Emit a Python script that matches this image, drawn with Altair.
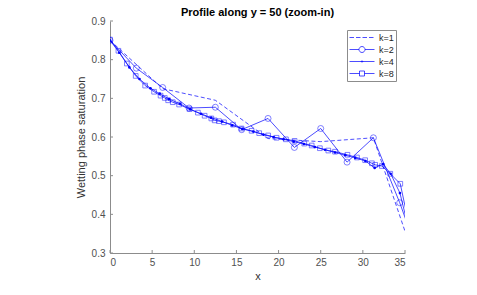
import altair as alt
import pandas as pd

SERIES = ["k=1", "k=2", "k=4", "k=8"]

K1_X = [0, 6.25, 12.5, 18.75, 25, 31.25, 37.5]
K1_S = [0.85, 0.725, 0.695, 0.596, 0.588, 0.598, 0.195]

K2_X = [0, 3.125, 6.25, 9.375, 12.5, 15.625, 18.75, 21.875, 25, 28.125, 31.25, 34.375, 37.5]
K2_S = [0.85, 0.778, 0.728, 0.675, 0.677, 0.619, 0.648, 0.573, 0.622, 0.535, 0.598, 0.43, 0.24]

K4_X = [0, 1.1, 2.3, 3.5, 4.8, 5.9, 7.0, 8.3, 9.5, 10.8, 12.0, 13.3, 14.5, 15.7, 17.0,
        18.2, 19.4, 20.6, 21.8, 23.0, 24.3, 25.5, 26.7, 27.9, 29.1, 30.3, 31.4, 32.4,
        33.3, 34.4, 35.8]
K4_S = [0.85, 0.818, 0.78, 0.75, 0.726, 0.712, 0.698, 0.686, 0.672, 0.660, 0.65, 0.64,
        0.63, 0.621, 0.614, 0.606, 0.600, 0.594, 0.588, 0.582, 0.574, 0.567, 0.560,
        0.553, 0.546, 0.538, 0.52, 0.53, 0.505, 0.455, 0.33]

K8_X = [0, 1.0, 2.0, 3.05, 4.17, 5.23, 6.0, 6.5, 6.9, 7.45, 8.2, 9.44, 10.43, 11.23,
        12.02, 12.42, 12.93, 13.52, 14.6, 15.6, 16.8, 17.7, 18.76, 19.76, 20.87, 21.9,
        23.05, 23.93, 24.9, 25.9, 26.7, 28.17, 29.3, 30.27, 31.07, 31.46, 32.26, 33.25,
        34.44, 35.6]
K8_S = [0.852, 0.823, 0.79, 0.758, 0.733, 0.717, 0.707, 0.701, 0.695, 0.69, 0.684,
        0.672, 0.663, 0.655, 0.648, 0.643, 0.641, 0.638, 0.632, 0.622, 0.616, 0.610,
        0.604, 0.598, 0.594, 0.59, 0.583, 0.578, 0.571, 0.565, 0.562, 0.554, 0.547,
        0.54, 0.532, 0.528, 0.525, 0.505, 0.479, 0.36]

X_TICKS = [0, 5, 10, 15, 20, 25, 30, 35]
Y_TICKS = [0.3, 0.4, 0.5, 0.6, 0.7, 0.8, 0.9]

rows = []
for name, xs, ss in [("k=1", K1_X, K1_S), ("k=2", K2_X, K2_S),
                     ("k=4", K4_X, K4_S), ("k=8", K8_X, K8_S)]:
    for x, s in zip(xs, ss):
        rows.append({"series": name, "x": x, "s": s})
df = pd.DataFrame(rows)

BLUE = "#0000ff"
FONT = "Liberation Sans"
W, H = 295, 232

xscale = alt.Scale(domain=[0, 35], nice=False, zero=False)
yscale = alt.Scale(domain=[0.3, 0.9], nice=False, zero=False)

xax = alt.Axis(values=X_TICKS, ticks=False, grid=False, domainColor="#8c8c8c",
               labelColor="#505050", labelFontSize=10, labelFont=FONT, labelPadding=4,
               title="x", titleFont=FONT, titleFontSize=11, titleFontWeight="normal",
               titleColor="#333333", titlePadding=3)
yax = alt.Axis(values=Y_TICKS, ticks=False, grid=False, domainColor="#8c8c8c",
               labelColor="#505050", labelFontSize=10, labelFont=FONT, labelPadding=5,
               format=".1f",
               title="Wetting phase saturation", titleFont=FONT, titleFontSize=11,
               titleFontWeight="normal", titleColor="#333333", titlePadding=5)

base = alt.Chart(df).encode(
    x=alt.X("x:Q", scale=xscale, axis=xax),
    y=alt.Y("s:Q", scale=yscale, axis=yax),
)

dashed = base.transform_filter(alt.datum.series == "k=1").mark_line(
    clip=True, strokeWidth=0.7, color=BLUE, strokeDash=[4, 2.5])
solid = base.transform_filter(alt.datum.series != "k=1").mark_line(
    clip=True, strokeWidth=0.7, color=BLUE).encode(detail="series:N")

circles = base.transform_filter(alt.datum.series == "k=2").mark_point(
    shape="circle", size=36, color=BLUE, strokeWidth=0.7, filled=False, clip=True)
squares = base.transform_filter(alt.datum.series == "k=8").mark_point(
    shape="square", size=22, color=BLUE, strokeWidth=0.7, filled=False, clip=True)
dots = base.transform_filter(alt.datum.series == "k=4").mark_circle(
    size=7, color=BLUE, opacity=1, clip=True)

# legend glyphs: line sample + marker, in units of sqrt(symbolSize)/2 = 5px
PATHS = [
    "M-1,0H-0.1M0.3,0H1.2M1.6,0H2.5M2.9,0H3.8",
    "M-1,0H0.9M2.1,0H4M2.1,0A0.6,0.6,0,1,1,0.9,0A0.6,0.6,0,1,1,2.1,0Z",
    "M-1,0H4M1.65,0A0.15,0.15,0,1,1,1.35,0A0.15,0.15,0,1,1,1.65,0Z",
    "M-1,0H1M2,0H4M1,-0.5H2V0.5H1Z",
]

legend_layer = base.transform_calculate(entry="datum.series").mark_point(
    filled=False, color=BLUE, size=100, strokeWidth=0.7, opacity=0).encode(
    shape=alt.Shape("entry:N", scale=alt.Scale(domain=SERIES, range=PATHS),
                    legend=alt.Legend(title=None, orient="top-right", offset=9,
                                      padding=2, strokeColor="#8c8c8c", fillColor="white",
                                      labelFont=FONT, labelFontSize=9, labelColor="#222222",
                                      symbolSize=100, symbolStrokeWidth=0.7,
                                      symbolOpacity=1, symbolFillColor="transparent",
                                      symbolStrokeColor=BLUE, rowPadding=1, labelOffset=19))
)

xt = alt.Chart(pd.DataFrame({"x": X_TICKS})).mark_rule(color="#8c8c8c", strokeWidth=1).encode(
    x=alt.X("x:Q", scale=xscale, axis=xax), y=alt.value(H), y2=alt.value(H - 3))
yt = alt.Chart(pd.DataFrame({"s": Y_TICKS})).mark_rule(color="#8c8c8c", strokeWidth=1).encode(
    y=alt.Y("s:Q", scale=yscale, axis=yax), x=alt.value(0), x2=alt.value(3))

chart = alt.layer(xt, yt, dashed, solid, circles, squares, dots, legend_layer).properties(
    width=W, height=H,
    title=alt.TitleParams("Profile along y = 50 (zoom-in)", font=FONT, fontSize=11,
                          fontWeight="bold", color="black", offset=-2, anchor="middle"),
    autosize=alt.AutoSizeParams(type="none"),
    padding={"left": 102, "top": 13, "right": 60, "bottom": 30},
).configure_view(stroke=None)

chart.save("out.html", embed_options={"renderer": "svg", "actions": False})
